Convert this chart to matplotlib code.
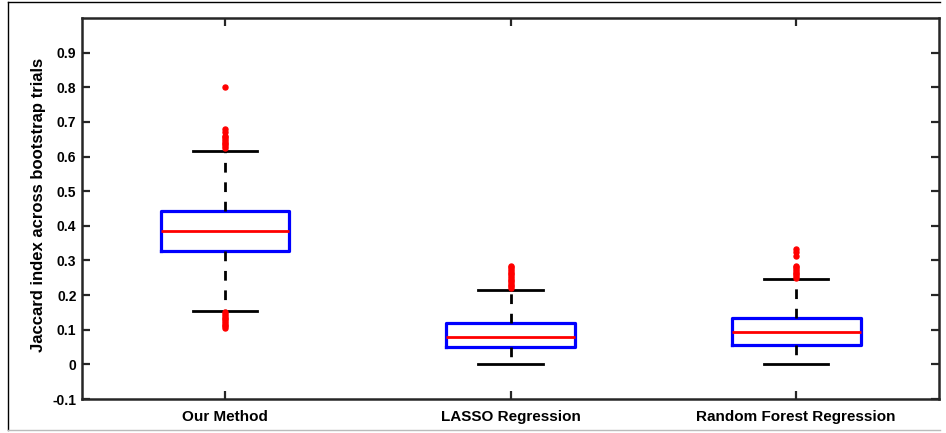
import matplotlib
matplotlib.use('Agg')
import matplotlib.pyplot as plt
from matplotlib.lines import Line2D

plt.rcParams['font.family'] = ['Liberation Sans', 'DejaVu Sans']
plt.rcParams['font.weight'] = 'bold'

# box statistics per method
methods = ['Our Method', 'LASSO Regression', 'Random Forest Regression']
medians = [0.384, 0.080, 0.094]
q1s = [0.326, 0.050, 0.057]
q3s = [0.442, 0.118, 0.133]
whis_lo = [0.153, 0.0, 0.0]
whis_hi = [0.617, 0.215, 0.246]
outliers = [
    [0.625, 0.63, 0.635, 0.64, 0.645, 0.65, 0.655, 0.66, 0.67, 0.68, 0.80,
     0.105, 0.11, 0.115, 0.12, 0.125, 0.13, 0.135, 0.14, 0.145, 0.15],
    [0.22, 0.225, 0.23, 0.235, 0.24, 0.245, 0.25, 0.255, 0.26, 0.265,
     0.27, 0.275, 0.28, 0.285],
    [0.25, 0.255, 0.26, 0.265, 0.27, 0.275, 0.28, 0.285, 0.312, 0.323, 0.334],
]
yticks = [-0.1, 0, 0.1, 0.2, 0.3, 0.4, 0.5, 0.6, 0.7, 0.8, 0.9]

stats = []
for i in range(len(methods)):
    stats.append({'label': methods[i], 'med': medians[i], 'q1': q1s[i], 'q3': q3s[i],
                  'whislo': whis_lo[i], 'whishi': whis_hi[i], 'fliers': outliers[i]})

fig = plt.figure(figsize=(9.46, 4.33), dpi=100)
ax = fig.add_axes([0.0867, 0.0785, 0.906, 0.880])

ax.bxp(stats, positions=[1, 2, 3], widths=0.45, capwidths=0.225,
       boxprops=dict(color='#0000ff', linewidth=2.3),
       medianprops=dict(color='#ff0000', linewidth=2.0),
       whiskerprops=dict(color='black', linewidth=2.0, linestyle=(0, (3.5, 3.5))),
       capprops=dict(color='black', linewidth=2.0),
       flierprops=dict(marker='o', markersize=3.6, markerfacecolor='#ff0000',
                       markeredgecolor='#ff0000', linestyle='none'))

ax.set_xlim(0.5, 3.5)
ax.set_ylim(-0.1, 1.0)
ax.set_yticks(yticks)
ax.set_yticklabels(['-0.1', '0', '0.1', '0.2', '0.3', '0.4', '0.5', '0.6', '0.7', '0.8', '0.9'])
ax.set_xticks([1, 2, 3])
ax.set_xticklabels(methods, fontsize=11, fontweight='bold')
ax.tick_params(axis='y', labelsize=10, direction='in', length=5.5, width=1.6,
               color='#262626', left=True, right=True, pad=4)
ax.tick_params(axis='x', direction='in', length=5.5, width=1.6,
               color='#262626', top=True, bottom=True, pad=8)
for s in ax.spines.values():
    s.set_linewidth(1.8)
    s.set_color('#262626')
ax.set_ylabel('Jaccard index across bootstrap trials', fontsize=12, fontweight='bold')
ax.yaxis.set_label_coords(-0.042, 0.51)

# thin frame around the figure
fig.add_artist(Line2D([0.0085, 0.994], [0.995, 0.995], color='black', lw=1.0,
                      transform=fig.transFigure))
fig.add_artist(Line2D([0.0085, 0.0085], [0.008, 0.995], color='black', lw=1.0,
                      transform=fig.transFigure))
fig.add_artist(Line2D([0.0085, 0.994], [0.008, 0.008], color='#bbbbbb', lw=1.0,
                      transform=fig.transFigure))

fig.savefig('out.png', dpi=100)
